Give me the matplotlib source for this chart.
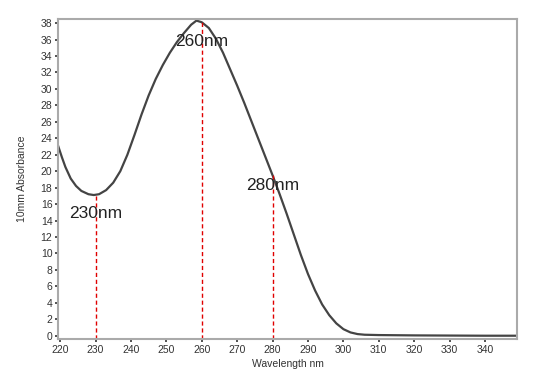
import matplotlib
matplotlib.use('Agg')
import matplotlib.pyplot as plt

plt.rcParams['font.family'] = ['Liberation Sans', 'DejaVu Sans']

# spectrum
wavelength = [219.5, 220.5, 221.5, 223, 224.5, 226, 228, 229.5, 231, 233, 235, 237, 239, 241,
              243, 245, 247, 249, 251, 253, 255, 257, 258.5, 260, 262, 264, 266, 268, 270,
              272, 274, 276, 278, 280, 282, 284, 286, 288, 290, 292, 294, 296, 298, 300,
              302, 304, 306, 310, 320, 330, 340, 349]
absorbance = [23.0, 21.7, 20.5, 19.1, 18.2, 17.6, 17.2, 17.1, 17.2, 17.7, 18.6, 20.0, 22.0, 24.4,
              26.9, 29.2, 31.2, 32.9, 34.4, 35.7, 36.8, 37.8, 38.3, 38.1, 37.4, 36.1, 34.4, 32.4, 30.4,
              28.3, 26.1, 23.9, 21.7, 19.5, 17.2, 14.8, 12.3, 9.8, 7.5, 5.5, 3.8, 2.5, 1.5, 0.8,
              0.4, 0.2, 0.12, 0.08, 0.04, 0.02, 0.0, 0.0]

marks = [230, 260, 280]
mark_values = [17.1, 38.4, 19.5]
mark_labels = ['230nm', '260nm', '280nm']
label_y = [14.9, 35.8, 18.3]

xticks = list(range(220, 341, 10))
yticks = list(range(0, 39, 2))

fig = plt.figure(figsize=(5.47, 3.87), dpi=100)
ax = fig.add_axes([0.106, 0.124, 0.839, 0.827])

ax.plot(wavelength, absorbance, color='#444444', lw=1.6)
for m, v in zip(marks, mark_values):
    ax.vlines(m, -0.4, v, colors='#e00000', linestyles=(0, (3, 2)), lw=1)
for m, lab, ly in zip(marks, mark_labels, label_y):
    ax.text(m, ly, lab, ha='center', va='center', fontsize=12.5, color='#222222')

ax.set_xlim(219.4, 349)
ax.set_ylim(-0.4, 38.5)
ax.set_xticks(xticks)
ax.set_yticks(yticks)
ax.tick_params(direction='out', length=2, width=1.2, color='#333333',
               labelsize=7.5, labelcolor='#333333', pad=2)
for s in ax.spines.values():
    s.set_color('#aaaaaa')
    s.set_linewidth(1.5)

ax.set_xlabel('Wavelength nm', fontsize=7.5, color='#333333', labelpad=3)
ax.set_ylabel('10mm Absorbance', fontsize=7.5, color='#333333', labelpad=10)

fig.savefig('out.png', dpi=100)
